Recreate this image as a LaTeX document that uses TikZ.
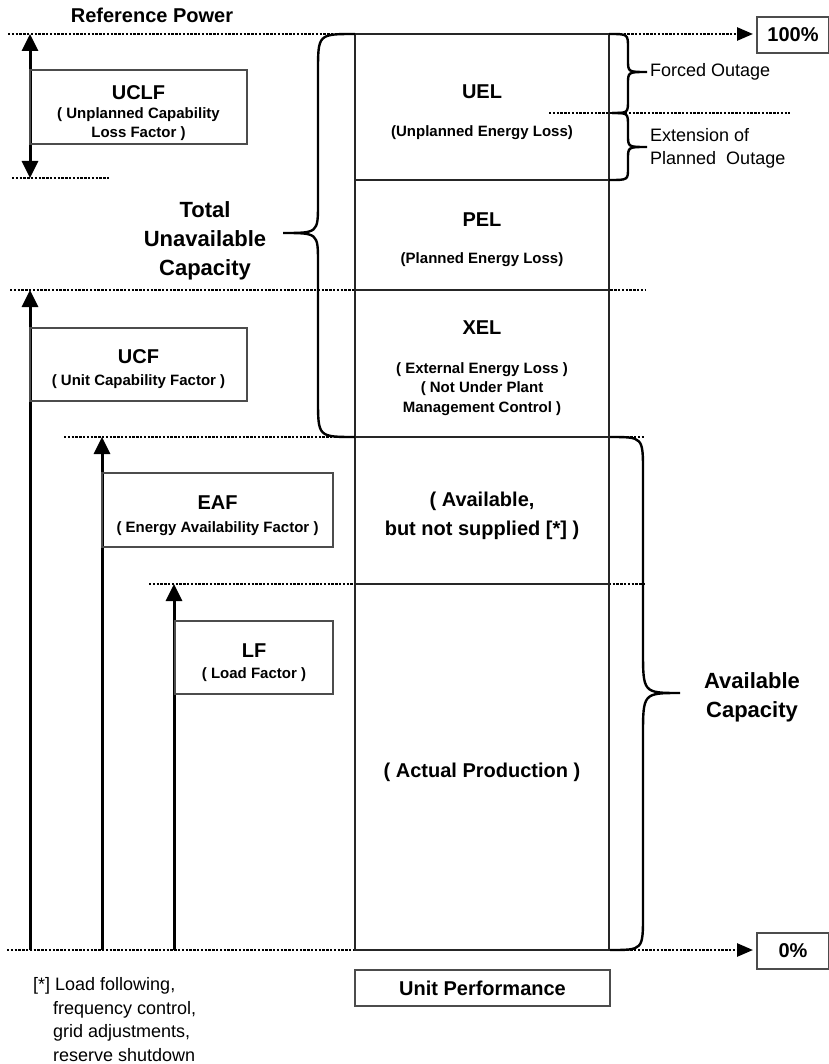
\documentclass[tikz,border=0pt]{standalone}
\usepackage{fontspec}
\setmainfont{Liberation Sans}
\usetikzlibrary{arrows.meta}

\newcommand{\headfont}{\fontsize{20}{24}\selectfont\bfseries}
\newcommand{\bigfont}{\fontsize{22}{29}\selectfont\bfseries}
\newcommand{\smallbold}{\fontsize{15}{19.5}\selectfont\bfseries}
\newcommand{\notefont}{\fontsize{18}{23.5}\selectfont}

\begin{document}
\begin{tikzpicture}[
  x=1pt, y=-1pt,
  font=\headfont,
  level/.style={line width=2.6pt, dash pattern=on 2.4pt off 1.4pt},
  levelarrow/.style={level, -{Triangle[length=16pt,width=13pt]}},
  factor/.style={line width=3pt, -{Triangle[length=17pt,width=16pt]}},
  factorbox/.style={draw=black!70, line width=2pt, inner sep=0pt},
  column/.style={line width=2pt, draw=black!85},
  brace/.style={line width=2.4pt},
  txt/.style={align=center, inner sep=0pt}
]
\useasboundingbox (0,0) rectangle (828,1064);

% levels
\coordinate (refstart) at (8,34);
\coordinate (refend) at (753,34);
\coordinate (uclfstart) at (12,178);
\coordinate (uclfend) at (110,178);
\coordinate (ucfstart) at (10,290);
\coordinate (ucfend) at (645,290);
\coordinate (eafstart) at (64,437);
\coordinate (eafend) at (645,437);
\coordinate (lfstart) at (149,584);
\coordinate (lfend) at (645,584);
\coordinate (forcedstart) at (549,113);
\coordinate (forcedend) at (790,113);
\coordinate (zerostart) at (7,950);
\coordinate (zeroend) at (753,950);

\draw[levelarrow] (refstart) -- (refend);
\draw[level] (uclfstart) -- (uclfend);
\draw[level] (ucfstart) -- (ucfend);
\draw[level] (eafstart) -- (eafend);
\draw[level] (lfstart) -- (lfend);
\draw[level] (forcedstart) -- (forcedend);
\draw[levelarrow] (zerostart) -- (zeroend);

% unit performance column
\draw[column] (355,34) rectangle (609,950);
\draw[column] (355,180) -- (609,180);
\draw[column] (355,290) -- (609,290);
\draw[column] (355,437) -- (609,437);
\draw[column] (355,584) -- (609,584);

% braces
\draw[brace] (355,34) .. controls (318,34) .. (318,72) -- (318,203)
  .. controls (318,233) .. (283,233) .. controls (318,233) .. (318,263)
  -- (318,399) .. controls (318,437) .. (355,437);
\draw[brace] (610,437) .. controls (643,437) .. (643,472) -- (643,650)
  .. controls (643,693) .. (680,693) .. controls (643,693) .. (643,736)
  -- (643,915) .. controls (643,950) .. (610,950);
\draw[brace] (609,34) .. controls (628,34) .. (628,48) -- (628,60)
  .. controls (628,72) .. (647,72) .. controls (628,72) .. (628,84)
  -- (628,100) .. controls (628,113) .. (612,113);
\draw[brace] (612,113) .. controls (628,113) .. (628,126) -- (628,135)
  .. controls (628,147) .. (647,147) .. controls (628,147) .. (628,159)
  -- (628,168) .. controls (628,180) .. (609,180);

% factor arrows
\coordinate (uclftop) at (30,34);
\coordinate (uclfbot) at (30,178);
\coordinate (ucftop) at (30,290);
\coordinate (ucfbase) at (30,950);
\coordinate (eaftop) at (102,437);
\coordinate (eafbase) at (102,950);
\coordinate (lftop) at (174,584);
\coordinate (lfbase) at (174,950);

\draw[factor, {Triangle[length=17pt,width=16pt]}-{Triangle[length=17pt,width=16pt]}] (uclfbot) -- (uclftop);
\draw[factor] (ucfbase) -- (ucftop);
\draw[factor] (eafbase) -- (eaftop);
\draw[factor] (lfbase) -- (lftop);

% factor boxes
\node[factorbox, minimum width=217, minimum height=74] (uclf) at (138.5,107) {};
\node[txt] (uclftext) at ([yshift=-6pt]uclf.center)
  {UCLF\\[-5pt]\smallbold ( Unplanned Capability\\[-5pt]\smallbold Loss Factor )};
\node[factorbox, minimum width=217, minimum height=73] (ucf) at (138.5,364.5) {};
\node[txt] (ucftext) at ([yshift=-5pt]ucf.center)
  {UCF\\[-2pt]\smallbold ( Unit Capability Factor )};
\node[factorbox, minimum width=231, minimum height=74] (eaf) at (217.5,510) {};
\node[txt] (eaftext) at ([yshift=-6pt]eaf.center)
  {EAF\\[-1pt]\smallbold ( Energy Availability Factor )};
\node[factorbox, minimum width=158, minimum height=73] (lf) at (254,657.5) {};
\node[txt] (lftext) at ([yshift=-5pt]lf.center)
  {LF\\[-3pt]\smallbold ( Load Factor )};

% energy losses
\node[txt] (uel) at (482,92) {UEL};
\node[txt, font=\smallbold] (ueltext) at (482,133) {(Unplanned Energy Loss)};
\node[txt] (pel) at (482,220) {PEL};
\node[txt, font=\smallbold] (peltext) at (482,260) {(Planned Energy Loss)};
\node[txt] (xel) at (482,328) {XEL};
\node[txt, font=\smallbold] (xeltext) at (482,389)
  {( External Energy Loss )\\( Not Under Plant\\Management Control )};
\node[txt, font=\fontsize{20}{29}\selectfont\bfseries] (notsupplied) at (482,516)
  {( Available,\\but not supplied [*] )};
\node[txt] (actual) at (482,772) {( Actual Production )};

% side labels
\node[txt] (refpower) at (152,15) {Reference Power};
\node[factorbox, minimum width=72, minimum height=36] (full) at (793,35) {100\%};
\node[factorbox, minimum width=72, minimum height=36] (zero) at (793,951) {0\%};
\node[factorbox, minimum width=255, minimum height=36] (unitperf) at (482.5,988) {Unit Performance};
\node[txt, font=\bigfont] (totalunavail) at (205,241) {Total\\Unavailable\\Capacity};
\node[txt, font=\bigfont] (availcap) at (752,697) {Available\\Capacity};
\node[txt, font=\notefont, anchor=west] (forced) at (650,72) {Forced Outage};
\node[txt, font=\notefont, anchor=west, align=left] (extension) at (650,148.5)
  {Extension of\\Planned\ \ Outage};
\node[txt, font=\notefont, anchor=west, align=left] (footnote) at (33,1019.5)
  {[*] Load following,\\\hspace*{20pt}frequency control,\\\hspace*{20pt}grid adjustments,\\\hspace*{20pt}reserve shutdown};
\end{tikzpicture}
\end{document}
